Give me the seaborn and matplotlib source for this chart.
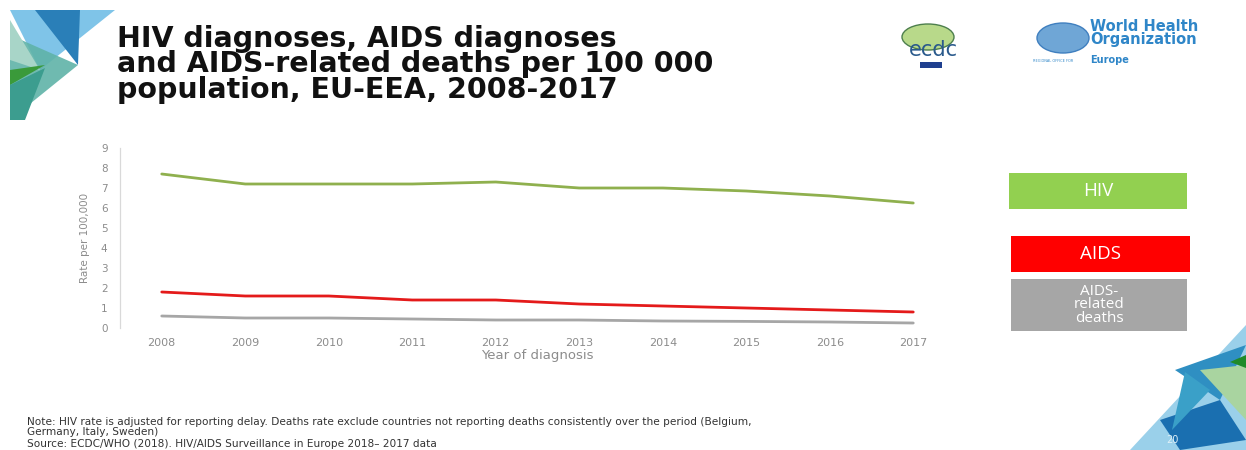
import numpy as np
import pandas as pd
import matplotlib
matplotlib.use("Agg")
import matplotlib.pyplot as plt
from matplotlib.patches import Polygon, Rectangle, Ellipse
import seaborn as sns

# Rates per 100 000 population, EU/EEA
years = [2008, 2009, 2010, 2011, 2012, 2013, 2014, 2015, 2016, 2017]
hiv = [7.7, 7.2, 7.2, 7.2, 7.3, 7.0, 7.0, 6.85, 6.6, 6.25]
aids = [1.8, 1.6, 1.6, 1.4, 1.4, 1.2, 1.1, 1.0, 0.9, 0.8]
deaths = [0.6, 0.5, 0.5, 0.45, 0.4, 0.4, 0.35, 0.33, 0.3, 0.25]
series_names = ["HIV", "AIDS", "AIDS-\nrelated\ndeaths"]
y_ticks = list(range(0, 10))

line_colors = ["#8fb04e", "#e41a1a", "#a6a6a6"]
box_colors = ["#92d050", "#ff0000", "#a6a6a6"]

df = pd.DataFrame({
    "year": years * 3,
    "rate": hiv + aids + deaths,
    "series": sum([[s] * len(years) for s in series_names], []),
})

sns.set_theme(style="white")
plt.rcParams["font.family"] = ["DejaVu Sans"]

fig = plt.figure(figsize=(12.46, 4.5), dpi=100)
W, H = 1246, 450

def fx(px):
    return px / W

def fy(py):
    return 1 - py / H

ax = fig.add_axes([fx(120), fy(328), fx(955) - fx(120), fy(148) - fy(328)])
sns.lineplot(data=df, x="year", y="rate", hue="series", hue_order=series_names,
             palette=line_colors, linewidth=2.0, legend=False, ax=ax)
ax.set_xlim(2007.5, 2017.5)
ax.set_ylim(0, 9)
ax.set_xticks(years)
ax.set_yticks(y_ticks)
ax.tick_params(axis="x", labelsize=8, colors="#8c8c8c", length=0, pad=7)
ax.tick_params(axis="y", labelsize=7.5, colors="#8c8c8c", length=4, width=0.8,
               direction="out", pad=5)
for t in ax.yaxis.get_ticklines():
    t.set_color("#d0d0d0")
for sp in ["top", "right", "bottom"]:
    ax.spines[sp].set_visible(False)
ax.spines["left"].set_color("#d9d9d9")
ax.spines["left"].set_linewidth(0.9)
ax.set_xlabel("Year of diagnosis", fontsize=9.5, color="#8c8c8c", labelpad=1)
ax.set_ylabel("Rate per 100,000", fontsize=7.5, color="#8c8c8c", labelpad=8)

# Series labels as coloured boxes
boxes = [(1009, 173, 178, 36), (1011, 236, 179, 36), (1011, 279, 176, 52)]
for (x0, y0, w, h), col, name in zip(boxes, box_colors, series_names):
    fig.patches.append(Rectangle((fx(x0), fy(y0 + h)), w / W, h / H,
                                 transform=fig.transFigure, facecolor=col,
                                 edgecolor="none"))
    fs = 13.5 if "\n" not in name else 11
    fig.text(fx(x0 + w / 2), fy(y0 + h / 2), name, ha="center", va="center",
             color="white", fontsize=fs, linespacing=0.85, fontfamily="Open Sans")

# Title
fig.text(fx(117), fy(25), "HIV diagnoses, AIDS diagnoses\nand AIDS-related deaths per 100 000\npopulation, EU-EEA, 2008-2017",
         ha="left", va="top", fontsize=20.5, fontweight="bold", color="#111111",
         linespacing=0.88)

# Corner decorations
def tri(points, color, alpha=1.0):
    pts = [(fx(x), fy(y)) for x, y in points]
    fig.patches.append(Polygon(pts, closed=True, transform=fig.transFigure,
                               facecolor=color, edgecolor="none", alpha=alpha))

tri([(10, 10), (115, 10), (40, 70)], "#7fc4e8")
tri([(35, 10), (80, 10), (78, 65)], "#2a7fb8")
tri([(10, 35), (78, 65), (10, 120)], "#5fb3a8", 0.9)
tri([(10, 20), (40, 70), (10, 60)], "#a8d5c8")
tri([(10, 70), (45, 65), (10, 85)], "#3a9a3a")
tri([(10, 85), (45, 68), (25, 120), (10, 120)], "#3c9d8f")

tri([(1246, 325), (1246, 450), (1130, 450)], "#9ad0ea")
tri([(1175, 370), (1246, 345), (1220, 400)], "#2f8fc2")
tri([(1200, 370), (1246, 365), (1246, 420)], "#a9d4a0")
tri([(1230, 362), (1246, 355), (1246, 368)], "#1f8a2a")
tri([(1160, 420), (1220, 400), (1246, 440), (1180, 450)], "#1a6fb0")
tri([(1185, 372), (1210, 390), (1172, 430)], "#3aa0c8")
fig.text(fx(1172), fy(440), "20", color="#dff0f8", fontsize=7, ha="center", va="center")

# Logos
fig.patches.append(Ellipse((fx(928), fy(37)), 52 / W, 26 / H, transform=fig.transFigure,
                           facecolor="#b8d98a", edgecolor="#4d7f4d", linewidth=1))
fig.text(fx(933), fy(50), "ecdc", color="#2a5a8c", fontsize=15, ha="center", va="center")
fig.patches.append(Rectangle((fx(920), fy(68)), 22 / W, 6 / H, transform=fig.transFigure,
                             facecolor="#1f3f8f", edgecolor="none"))
fig.patches.append(Ellipse((fx(1063), fy(38)), 52 / W, 30 / H, transform=fig.transFigure,
                           facecolor="#6fa6d6", edgecolor="#3f7fbf", linewidth=1))
fig.text(fx(1090), fy(33), "World Health\nOrganization", color="#2f86c8", fontsize=10.5,
         fontweight="bold", ha="left", va="center", linespacing=0.85)
fig.text(fx(1090), fy(60), "Europe", color="#2f86c8", fontsize=7, fontweight="bold",
         ha="left", va="center")
fig.text(fx(1033), fy(61), "REGIONAL OFFICE FOR", color="#2f86c8", fontsize=2.5,
         ha="left", va="center")

# Footnotes
fig.text(fx(27), fy(427), "Note: HIV rate is adjusted for reporting delay. Deaths rate exclude countries not reporting deaths consistently over the period (Belgium,\nGermany, Italy, Sweden)",
         ha="left", va="center", fontsize=7.6, color="#333333", linespacing=1.0)
fig.text(fx(27), fy(444), "Source: ECDC/WHO (2018). HIV/AIDS Surveillance in Europe 2018\u2013 2017 data",
         ha="left", va="center", fontsize=7.6, color="#333333")

fig.savefig("out.png", dpi=100)
